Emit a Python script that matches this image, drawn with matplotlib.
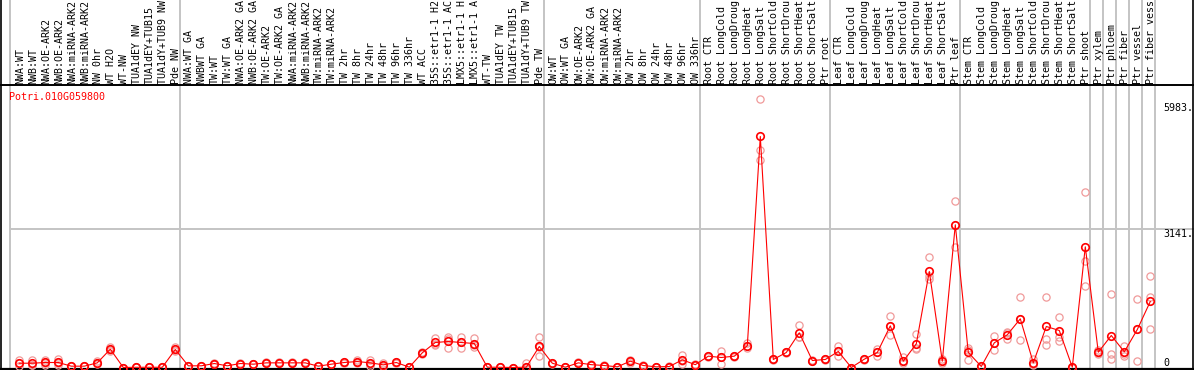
import matplotlib
matplotlib.use("Agg")
import matplotlib.pyplot as plt

gene = "Potri.010G059800"

labels = [
    "NWA:WT", "NWB:WT", "NWA:OE-ARK2", "NWB:OE-ARK2", "NWA:miRNA-ARK2", "NWB:miRNA-ARK2",
    "NW 0hr", "WT H2O", "WT-NW", "TUA1dEY NW", "TUA1dEY+TUB15", "TUA1dY+TUB9 NW", "Pde NW",
    "NWA:WT GA", "NWBWT GA", "TW:WT", "TW:WT GA", "NWA:OE-ARK2 GA", "NWB:OE-ARK2 GA",
    "TW:OE-ARK2", "TW:OE-ARK2 GA", "NWA:miRNA-ARK2", "NWB:miRNA-ARK2", "TW:miRNA-ARK2",
    "TW:miRNA-ARK2", "TW 2hr", "TW 8hr", "TW 24hr", "TW 48hr", "TW 96hr", "TW 336hr",
    "WT ACC", "35S::etr1-1 H2", "35S::etr1-1 AC", "LMX5::etr1-1 H", "LMX5::etr1-1 A",
    "WT-TW", "TUA1dEY TW", "TUA1dEY+TUB15", "TUA1dY+TUB9 TW", "Pde TW",
    "OW:WT", "OW:WT GA", "OW:OE-ARK2", "OW:OE-ARK2 GA", "OW:miRNA-ARK2", "OW:miRNA-ARK2",
    "OW 2hr", "OW 8hr", "OW 24hr", "OW 48hr", "OW 96hr", "OW 336hr",
    "Root CTR", "Root LongCold", "Root LongDroug", "Root LongHeat", "Root LongSalt",
    "Root ShortCold", "Root ShortDrou", "Root ShortHeat", "Root ShortSalt", "Ptr root",
    "Leaf CTR", "Leaf LongCold", "Leaf LongDroug", "Leaf LongHeat", "Leaf LongSalt",
    "Leaf ShortCold", "Leaf ShortDrou", "Leaf ShortHeat", "Leaf ShortSalt", "Ptr leaf",
    "Stem CTR", "Stem LongCold", "Stem LongDroug", "Stem LongHeat", "Stem LongSalt",
    "Stem ShortCold", "Stem ShortDrou", "Stem ShortHeat", "Stem ShortSalt", "Ptr shoot",
    "Ptr xylem", "Ptr phloem", "Ptr fiber", "Ptr vessel", "Ptr fiber vess",
]

means = [
    97, 97, 113, 113, 30, 30, 105, 414, 0, 5, 5, 5, 407,
    38, 38, 90, 38, 90, 75, 105, 105, 105, 105, 30, 75, 113, 135, 105, 60, 113, 7,
    332, 565, 588, 565, 542, 7, 5, 0, 7, 475,
    97, 7, 105, 64, 45, 15, 143, 45, 15, 22, 173, 64,
    256, 226, 256, 490, 5221, 181, 339, 784, 158, 181,
    362, 0, 188, 339, 942, 143, 535, 2170, 143, 3225,
    339, 23, 558, 739, 1100, 106, 927, 836, 7, 2727,
    346, 723, 354, 859, 1492,
]

rep_a = [
    170, 170, 170, 196, 35, 32, 150, 459, 0, 5, 5, 5, 459,
    45, 45, 100, 45, 100, 85, 115, 115, 115, 115, 38, 85, 125, 170, 180, 100, 125, 10,
    360, 673, 685, 685, 673, 10, 8, 0, 95, 685,
    110, 10, 115, 75, 55, 20, 180, 55, 20, 30, 287, 75,
    270, 368, 270, 547, 6073, 195, 350, 965, 170, 195,
    497, 0, 200, 422, 1153, 230, 757, 2486, 190, 3767,
    445, 40, 723, 798, 1582, 185, 1582, 1137, 15, 3971,
    400, 1665, 497, 1552, 2057,
]

rep_b = [
    95, 60, 110, 95, 28, 30, 95, 400, 0, 5, 5, 5, 400,
    35, 35, 85, 35, 85, 70, 100, 100, 100, 100, 28, 70, 110, 130, 90, 45, 110, 5,
    332, 520, 640, 565, 500, 6, 4, 0, 5, 470,
    97, 6, 100, 60, 42, 13, 143, 42, 13, 20, 150, 60,
    256, 226, 256, 490, 4920, 181, 339, 700, 158, 181,
    362, 0, 188, 339, 942, 143, 430, 2057, 143, 3225,
    400, 20, 550, 770, 1090, 76, 633, 685, 5, 2418,
    330, 294, 294, 867, 1589,
]

rep_c = [
    30, 60, 60, 50, 27, 28, 70, 383, 0, 5, 5, 5, 362,
    34, 34, 85, 34, 85, 70, 100, 100, 100, 100, 24, 70, 104, 105, 45, 35, 104, 5,
    304, 502, 436, 445, 453, 5, 3, 0, 0, 271,
    84, 5, 100, 57, 38, 12, 106, 38, 12, 16, 82, 57,
    242, 84, 242, 433, 4678, 167, 328, 687, 146, 167,
    249, 0, 176, 249, 739, 95, 418, 2004, 95, 2719,
    174, 10, 400, 648, 626, 57, 513, 610, 0, 1853,
    310, 197, 249, 158, 859,
]

# last sample index of each group (separator drawn just after it)
group_ends = [12, 40, 52, 62, 72, 82, 83, 84, 85, 86, 87]
yticks = [5983, 3141, 0]

# pixel layout of the original: x = 19.3 + 13*i, y = 367.5 - v*0.04425
W, H = 1194, 370
px_per_unit = 0.04425
zero_px = 367.5


def vy(py):
    return (zero_px - py) / px_per_unit


fig = plt.figure(figsize=(W / 100, H / 100), dpi=100)
ax = fig.add_axes([0, 0, 1, 1])
ax.set_xlim(-19.3 / 13, (W - 19.3) / 13)
ax.set_ylim(vy(H), vy(0))
ax.axis("off")

mono = "DejaVu Sans Mono"
fs = 7.2
grey = "#c4c4c4"

# group separators and grid
ax.axvline(-0.72, color=grey, lw=1.4, zorder=1)
for g in group_ends:
    ax.axvline(g + 0.385, color=grey, lw=1.4, zorder=1)
ax.plot([-0.72, 92], [3141, 3141], color=grey, lw=1.4, zorder=1)

# frame
ax.axhline(vy(85), color="black", lw=1.4, zorder=2)
ax.axhline(vy(368.7), color="black", lw=1.6, zorder=2)
ax.plot([0.001, 0.001], [0, 1], transform=ax.transAxes, color="black", lw=1.2, clip_on=False)
ax.plot([0.9995, 0.9995], [0, 1], transform=ax.transAxes, color="black", lw=1.2, clip_on=False)

xs = list(range(len(means)))

# replicates
for reps in (rep_a, rep_b, rep_c):
    ax.plot(xs, reps, linestyle="none", marker="o", markersize=5.2,
            markerfacecolor="none", markeredgecolor="#f09a9a", markeredgewidth=0.9, zorder=3)

# mean line
ax.plot(xs, means, color="red", lw=0.8, zorder=4)
ax.plot(xs, means, linestyle="none", marker="o", markersize=5.4,
        markerfacecolor="none", markeredgecolor="red", markeredgewidth=1.2, zorder=5)

# sample labels
for i, lab in enumerate(labels):
    ax.text(i + 0.05, vy(83.5), lab, rotation=90, ha="center", va="bottom",
            family=mono, fontsize=fs, color="black")

# gene title
ax.text(9.5 / W, 1 - 92 / H, gene, transform=ax.transAxes, ha="left", va="top",
        family=mono, fontsize=fs, color="red")

# value labels on the right
xlab = 1163 / W
for v in yticks:
    if v == 0:
        ax.text(xlab, v, "0", transform=ax.get_yaxis_transform(), ha="left",
                va="bottom", family=mono, fontsize=fs)
    else:
        ax.text(xlab, v, f"{v}.", transform=ax.get_yaxis_transform(), ha="left",
                va="top", family=mono, fontsize=fs)

fig.savefig("out.png", dpi=100, facecolor="white")
